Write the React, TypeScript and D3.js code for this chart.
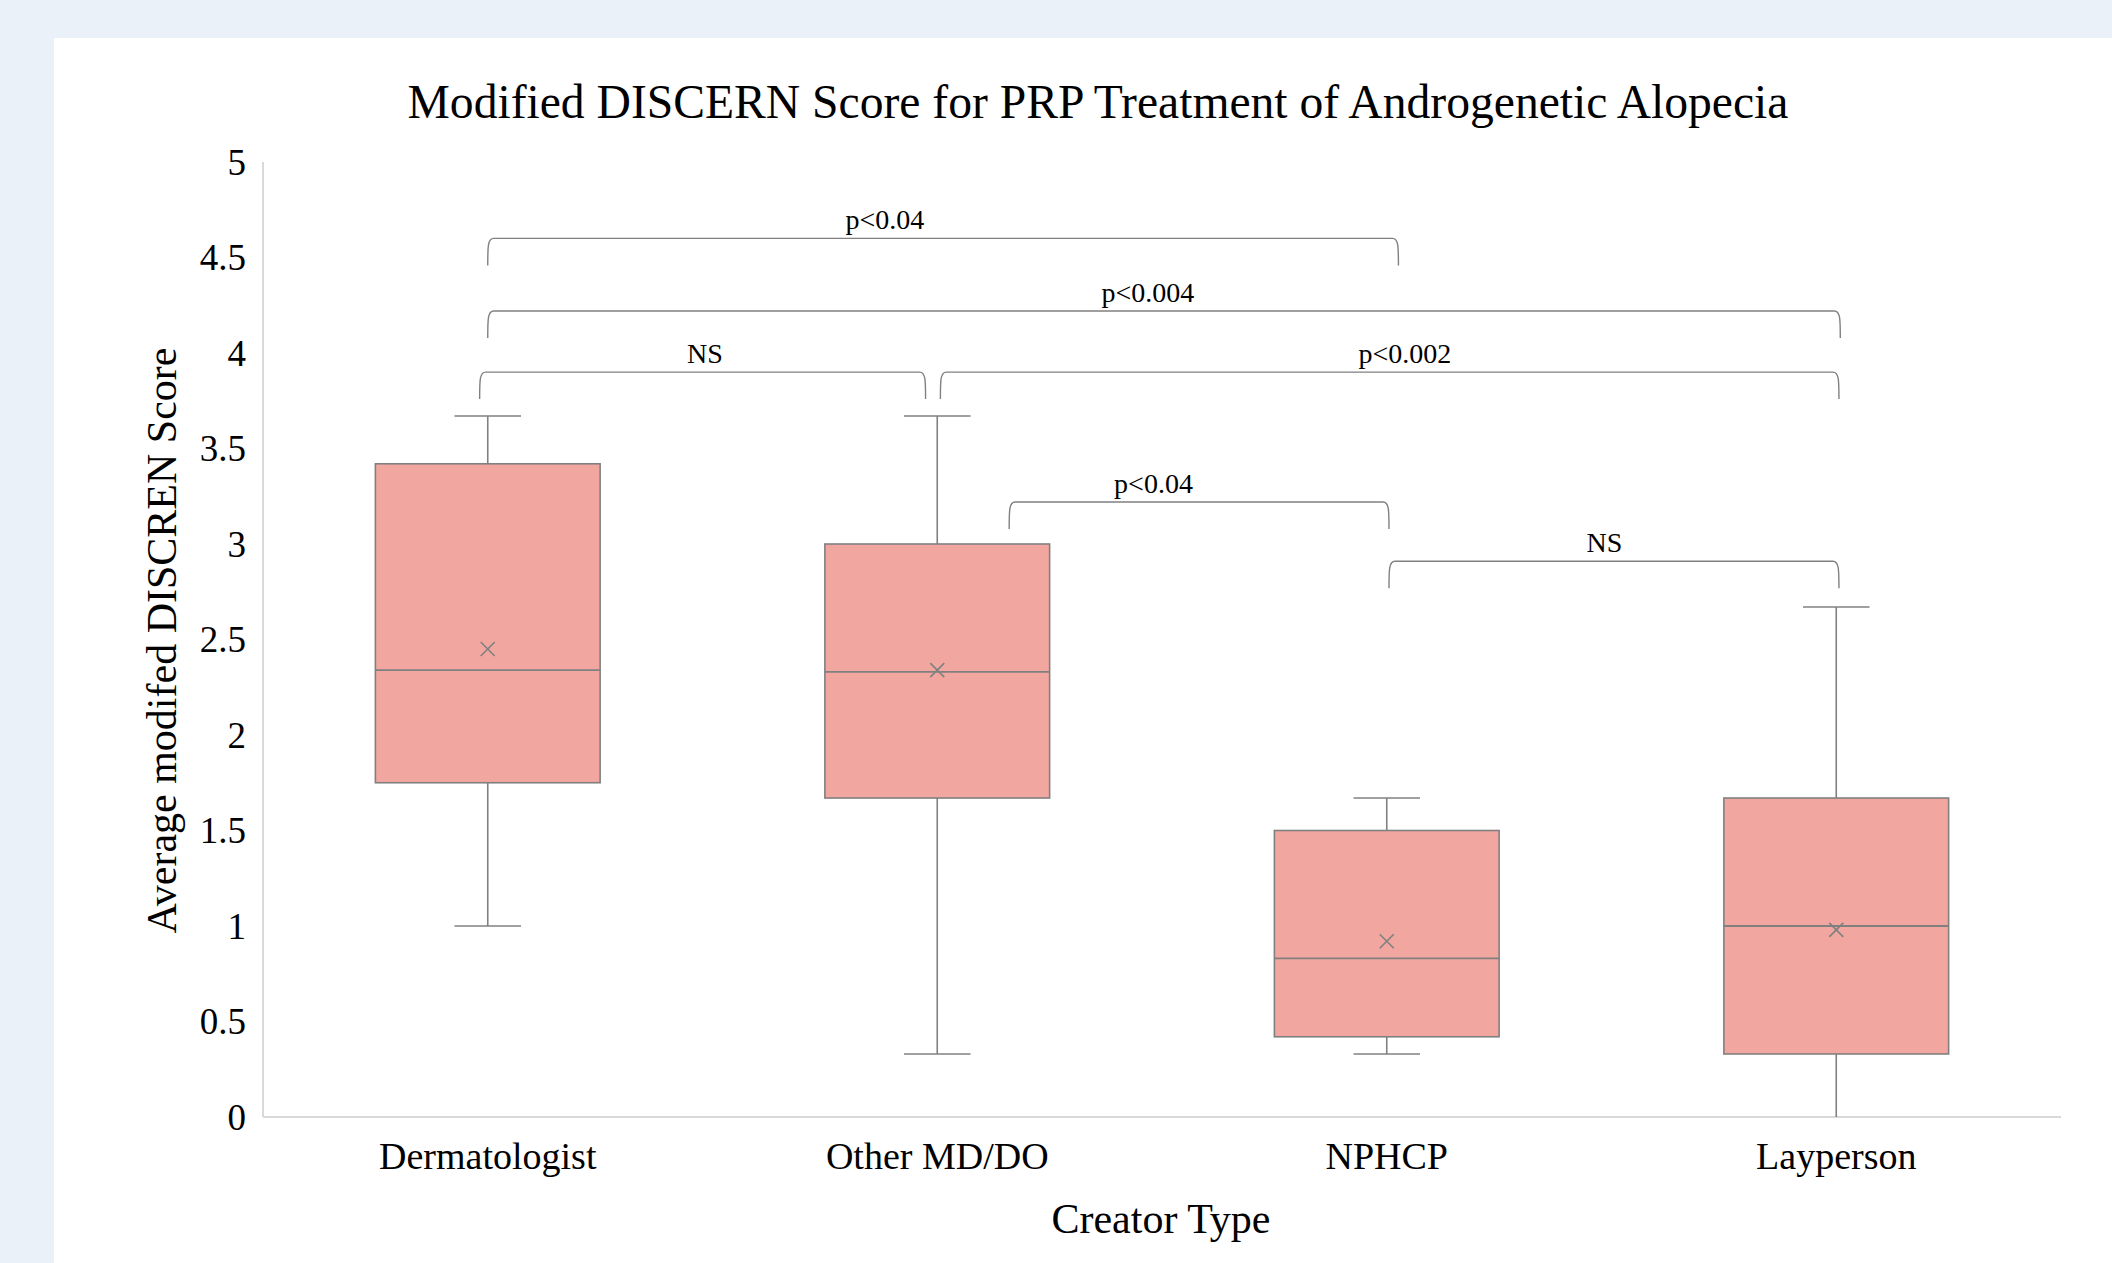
import React from 'react';
import * as d3 from 'd3';

// categories and box stats
const categories = ['Dermatologist', 'Other MD/DO', 'NPHCP', 'Layperson'];
const whiskerLow = [1.0, 0.33, 0.33, 0.0];
const q1 = [1.75, 1.67, 0.42, 0.33];
const median = [2.34, 2.33, 0.83, 1.0];
const q3 = [3.42, 3.0, 1.5, 1.67];
const whiskerHigh = [3.67, 3.67, 1.67, 2.67];
const means = [2.45, 2.34, 0.92, 0.98];

const yTicks = [0, 0.5, 1, 1.5, 2, 2.5, 3, 3.5, 4, 4.5, 5];

// significance brackets
const bracketFrom = ['Dermatologist', 'Dermatologist', 'Dermatologist', 'Other MD/DO', 'Other MD/DO', 'NPHCP'];
const bracketTo = ['NPHCP', 'Layperson', 'Other MD/DO', 'Layperson', 'NPHCP', 'Layperson'];
const bracketLevel = [4.6, 4.22, 3.9, 3.9, 3.22, 2.91];
const bracketLabel = ['p<0.04', 'p<0.004', 'NS', 'p<0.002', 'p<0.04', 'NS'];

const W = 2112;
const H = 1263;
const FONT = '"Liberation Serif", "Times New Roman", serif';

export default function App() {
  const x = d3.scaleBand<string>().domain(categories).range([263, 2061]).padding(0);
  const y = d3.scaleLinear().domain([0, 5]).range([1117, 162]);
  const bw = x.bandwidth();
  const boxW = bw * 0.5;
  const capW = bw * 0.148;
  const cx = (c: string) => (x(c) as number) + bw / 2;

  // small offsets so neighbouring brackets don't share an end point
  const fromOff = [0, 0, -0.018, 0.007, 0.16, 0.005];
  const toOff = [0.026, 0.009, -0.026, 0.006, 0.005, 0.006];
  const labelAt = [0.436, 0.488, 0.505, 0.517, 0.38, 0.479];

  const stroke = '#808080';

  return (
    <svg width={W} height={H} style={{ position: 'absolute', left: 0, top: 0 }} fontFamily={FONT}>
      <rect x={0} y={0} width={W} height={H} fill="#eaf1f9" />
      <rect x={54} y={38} width={W - 54} height={H - 38} fill="#ffffff" />

      <text x={1098} y={118} textAnchor="middle" fontSize={47.6} fill="#000">
        Modified DISCERN Score for PRP Treatment of Androgenetic Alopecia
      </text>

      {/* axes */}
      <line x1={263} x2={263} y1={y(5)} y2={y(0)} stroke="#d9d9d9" strokeWidth={2} />
      <line x1={263} x2={2061} y1={y(0)} y2={y(0)} stroke="#d9d9d9" strokeWidth={2} />
      {yTicks.map((t) => (
        <text key={t} x={246} y={y(t)} dy="0.35em" textAnchor="end" fontSize={37} fill="#000">
          {t}
        </text>
      ))}
      {categories.map((c) => (
        <text key={c} x={cx(c)} y={1169} textAnchor="middle" fontSize={38} fill="#000">
          {c}
        </text>
      ))}
      <text x={1161} y={1233} textAnchor="middle" fontSize={42} fill="#000">
        Creator Type
      </text>
      <text
        transform={`translate(176, ${(y(0) + y(5)) / 2 + 1}) rotate(-90)`}
        textAnchor="middle"
        fontSize={42}
        fill="#000"
      >
        Average modifed DISCREN Score
      </text>

      {/* boxes */}
      {categories.map((c, i) => {
        const m = cx(c);
        return (
          <g key={c}>
            <line x1={m} x2={m} y1={y(whiskerHigh[i])} y2={y(q3[i])} stroke={stroke} strokeWidth={1.6} />
            <line x1={m} x2={m} y1={y(q1[i])} y2={y(whiskerLow[i])} stroke={stroke} strokeWidth={1.6} />
            <line x1={m - capW / 2} x2={m + capW / 2} y1={y(whiskerHigh[i])} y2={y(whiskerHigh[i])} stroke={stroke} strokeWidth={1.6} />
            {whiskerLow[i] > 0 && (
              <line x1={m - capW / 2} x2={m + capW / 2} y1={y(whiskerLow[i])} y2={y(whiskerLow[i])} stroke={stroke} strokeWidth={1.6} />
            )}
            <rect
              x={m - boxW / 2}
              y={y(q3[i])}
              width={boxW}
              height={y(q1[i]) - y(q3[i])}
              fill="#f2a6a0"
              stroke={stroke}
              strokeWidth={1.6}
            />
            <line x1={m - boxW / 2} x2={m + boxW / 2} y1={y(median[i])} y2={y(median[i])} stroke={stroke} strokeWidth={1.8} />
            <path
              d={`M${m - 7},${y(means[i]) - 7}L${m + 7},${y(means[i]) + 7}M${m - 7},${y(means[i]) + 7}L${m + 7},${y(means[i]) - 7}`}
              stroke={stroke}
              strokeWidth={1.6}
              fill="none"
            />
          </g>
        );
      })}

      {/* significance brackets */}
      {bracketLabel.map((lab, i) => {
        const x1 = cx(bracketFrom[i]) + fromOff[i] * bw;
        const x2 = cx(bracketTo[i]) + toOff[i] * bw;
        const yy = y(bracketLevel[i]);
        const drop = 27;
        const d = `M${x1},${yy + drop} C${x1},${yy + 8} ${x1},${yy} ${x1 + 6},${yy} L${x2 - 6},${yy} C${x2},${yy} ${x2},${yy + 8} ${x2},${yy + drop}`;
        return (
          <g key={i}>
            <path d={d} fill="none" stroke={stroke} strokeWidth={1.4} />
            <text x={x1 + (x2 - x1) * labelAt[i]} y={yy - 9} textAnchor="middle" fontSize={28} fill="#000">
              {lab}
            </text>
          </g>
        );
      })}
    </svg>
  );
}
